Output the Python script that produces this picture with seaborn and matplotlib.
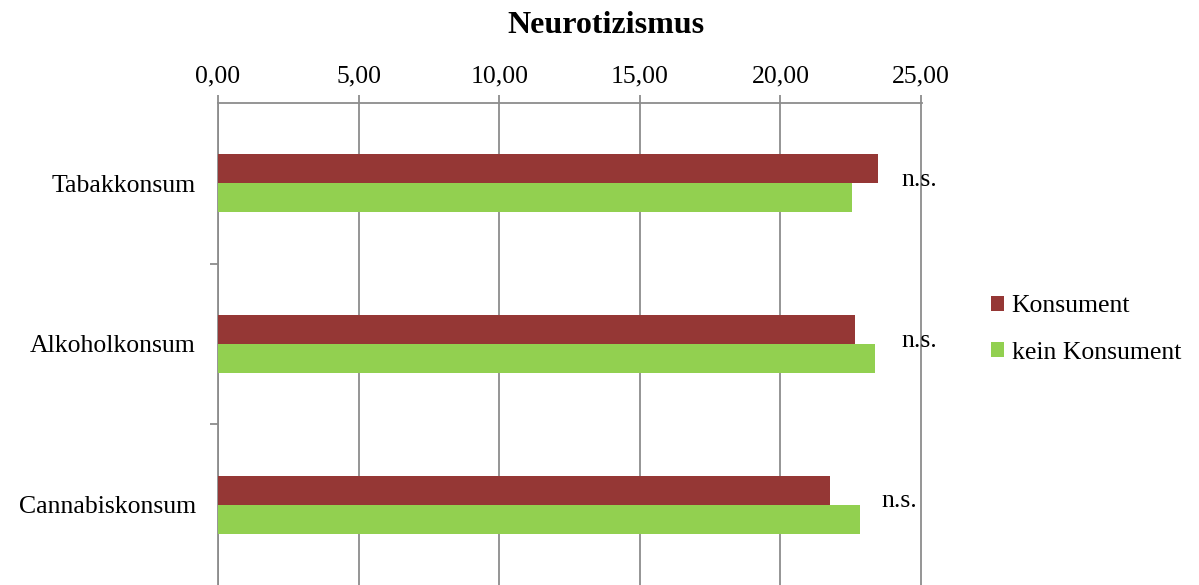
import matplotlib
matplotlib.use("Agg")
import matplotlib.pyplot as plt
import seaborn as sns
import pandas as pd
from matplotlib.ticker import FuncFormatter, FixedLocator

categories = ["Tabakkonsum", "Alkoholkonsum", "Cannabiskonsum"]
konsument = [23.46, 22.66, 21.77]
kein_konsument = [22.53, 23.38, 22.83]
series_names = ["Konsument", "kein Konsument"]
sig_labels = ["n.s.", "n.s.", "n.s."]
sig_x = [24.32, 24.32, 23.6]
title = "Neurotizismus"

df = pd.DataFrame({
    "Kategorie": categories * 2,
    "Wert": konsument + kein_konsument,
    "Gruppe": [series_names[0]] * 3 + [series_names[1]] * 3,
})

sns.set_style("white")
plt.rcParams["font.family"] = ["Liberation Serif", "DejaVu Serif"]
plt.rcParams["text.color"] = "black"
plt.rcParams["xtick.color"] = "black"
plt.rcParams["ytick.color"] = "black"

fig = plt.figure(figsize=(11.99, 5.85), dpi=100)
ax = fig.add_axes([0.1818, 0.0, 0.5868, 0.824])

palette = {"Konsument": "#953735", "kein Konsument": "#92D050"}
sns.barplot(data=df, y="Kategorie", x="Wert", hue="Gruppe", order=categories,
            hue_order=series_names, palette=palette, orient="h", width=0.36,
            saturation=1, ax=ax, zorder=3, edgecolor="none")

ax.set_xlim(0, 25.02)
ax.set_ylim(2.5, -0.5)
ax.xaxis.tick_top()
ax.set_xticks([0, 5, 10, 15, 20, 25])
ax.xaxis.set_major_formatter(FuncFormatter(lambda v, p: f"{v:.2f}".replace(".", ",")))
ax.tick_params(axis="x", which="major", length=6, width=1.3, color="#8c8c8c",
               labelcolor="black", labelsize=18.5, pad=5, top=True, bottom=False)
ax.grid(axis="x", color="#8c8c8c", linewidth=1.3, zorder=0)
ax.grid(axis="y", visible=False)

ax.yaxis.set_minor_locator(FixedLocator([0.5, 1.5]))
ax.tick_params(axis="y", which="major", length=0, labelsize=18.5, pad=16,
               labelcolor="black")
ax.tick_params(axis="y", which="minor", length=6, width=1.3, color="#8c8c8c", left=True)

ax.set_xlabel("")
ax.set_ylabel("")
for side in ["right", "bottom"]:
    ax.spines[side].set_visible(False)
for side in ["top", "left"]:
    ax.spines[side].set_color("#8c8c8c")
    ax.spines[side].set_linewidth(1.3)

for i, (lab, x) in enumerate(zip(sig_labels, sig_x)):
    ax.text(x, i - 0.02, lab, fontsize=18.5, ha="left", va="center", zorder=5,
            color="black")

fig.suptitle(title, x=0.505, y=0.957, va="center", fontsize=23, fontweight="bold",
             color="black")

leg = ax.legend(loc="center left", bbox_to_anchor=(1.066, 0.53), frameon=False,
                fontsize=18.5, handlelength=0.5, handleheight=0.5, handletextpad=0.3,
                labelspacing=0.95)
for t in leg.get_texts():
    t.set_color("black")

fig.savefig("out.png", dpi=100)
